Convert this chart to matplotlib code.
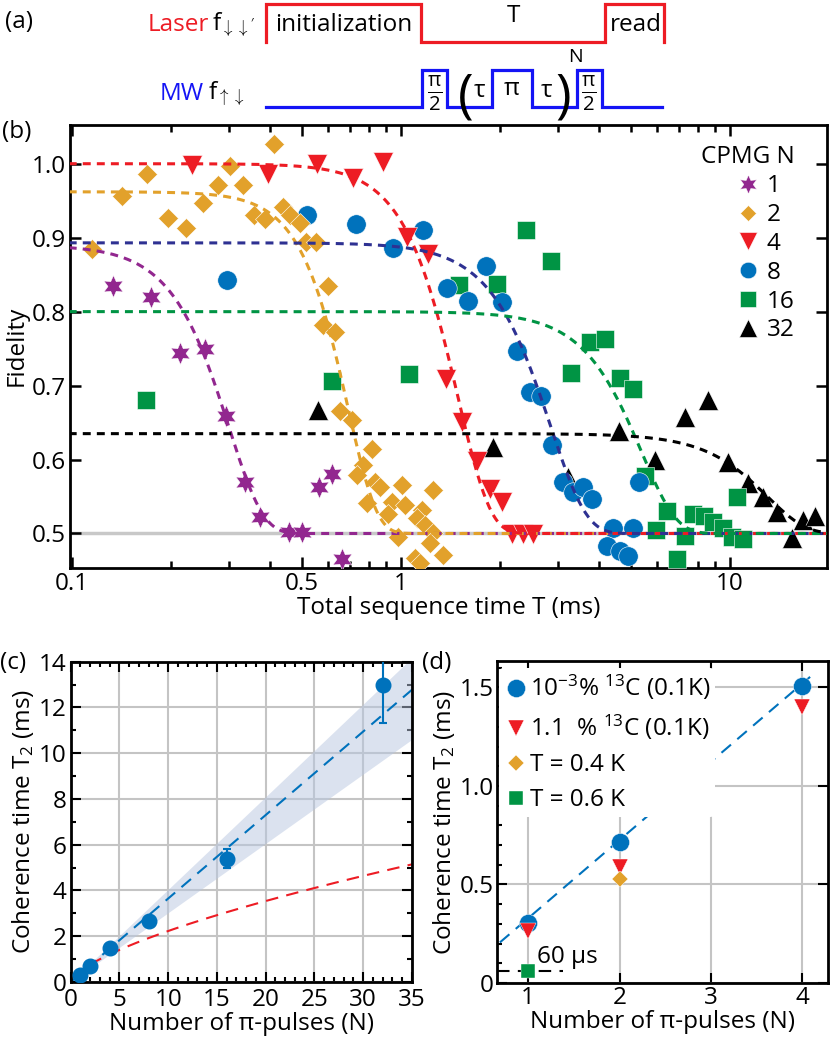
import numpy as np
import matplotlib
matplotlib.use("Agg")
import matplotlib.pyplot as plt
from matplotlib.lines import Line2D
from matplotlib.ticker import FixedLocator, NullFormatter, FixedFormatter

plt.rcParams['font.family'] = ['Open Sans', 'DejaVu Sans']
plt.rcParams['mathtext.fontset'] = 'custom'
plt.rcParams['mathtext.rm'] = 'Open Sans'
plt.rcParams['mathtext.it'] = 'Open Sans'
plt.rcParams['mathtext.bf'] = 'Open Sans:bold'
plt.rcParams['font.size'] = 17.5
plt.rcParams['axes.linewidth'] = 2.0

# ---- (b) fidelity vs total sequence time, one set per CPMG order N
cpmg_N = ['1', '2', '4', '8', '16', '32']

N1_T = [0.1335, 0.174, 0.213, 0.254, 0.293, 0.336, 0.373, 0.455, 0.499, 0.565, 0.615, 0.66]
N1_F = [0.834, 0.820, 0.744, 0.750, 0.659, 0.569, 0.522, 0.502, 0.502, 0.5625, 0.581, 0.4655]

N2_T = [0.1148, 0.1416, 0.1686, 0.196, 0.222, 0.2507, 0.2772, 0.302, 0.330, 0.358, 0.386,
        0.411, 0.439, 0.46, 0.493, 0.514, 0.552, 0.578, 0.601, 0.63, 0.653, 0.708, 0.815,
        0.768, 0.733, 0.834, 0.863, 1.005, 1.254, 0.786, 0.937, 1.028, 0.915, 1.156, 1.116,
        1.183, 1.254, 0.981, 1.225, 1.345, 1.103, 1.142]
N2_F = [0.885, 0.956, 0.9865, 0.9265, 0.913, 0.947, 0.9716, 0.9964, 0.9716, 0.931, 0.925,
        1.026, 0.941, 0.930, 0.920, 0.894, 0.894, 0.782, 0.834, 0.773, 0.665, 0.653, 0.614,
        0.593, 0.579, 0.570, 0.5625, 0.5656, 0.559, 0.541, 0.543, 0.5386, 0.527, 0.532, 0.5206,
        0.5115, 0.500, 0.4957, 0.4867, 0.471, 0.4664, 0.4597]

N4_T = [0.231, 0.393, 0.554, 0.716, 0.884, 1.04, 1.21, 1.37, 1.53, 1.70, 1.865, 2.02, 2.17, 2.35, 2.52]
N4_F = [0.998, 0.9865, 1.0, 0.98, 1.002, 0.901, 0.878, 0.709, 0.651, 0.5985, 0.560, 0.542, 0.4993, 0.4993, 0.4993]

N8_T = [0.295, 0.517, 0.73, 0.948, 1.169, 1.377, 1.60, 1.813, 2.03, 2.245, 2.47, 2.67, 2.87,
        3.11, 3.34, 3.58, 3.80, 4.42, 5.06, 4.22, 4.63, 4.91, 5.3]
N8_F = [0.843, 0.930, 0.919, 0.886, 0.911, 0.832, 0.814, 0.861, 0.813, 0.747, 0.691, 0.6865, 0.619,
        0.569, 0.556, 0.5625, 0.547, 0.508, 0.508, 0.4835, 0.4767, 0.470, 0.569]

N16_T = [0.168, 0.616, 1.06, 1.504, 1.954, 2.397, 2.85, 3.28, 3.74, 4.17, 4.63, 5.08, 5.52, 5.96,
         6.43, 6.88, 7.3, 7.74, 8.32, 8.9, 9.54, 10.12, 10.96, 10.48]
N16_F = [0.681, 0.706, 0.716, 0.836, 0.838, 0.911, 0.869, 0.717, 0.759, 0.763, 0.710, 0.695, 0.578, 0.505,
         0.531, 0.4655, 0.497, 0.526, 0.523, 0.515, 0.508, 0.495, 0.493, 0.55]

N32_T = [0.56, 1.9, 3.22, 4.58, 5.9, 7.3, 8.58, 9.88, 11.37, 12.6, 13.86, 15.4, 16.67, 18.1]
N32_F = [0.667, 0.6175, 0.577, 0.638, 0.5995, 0.658, 0.681, 0.597, 0.568, 0.55, 0.5295, 0.4935, 0.518, 0.523]

# fitted decay F = 0.5 + (A - 0.5) exp(-(T/T2)^n)
fit_A = [0.89, 0.962, 1.0, 0.893, 0.80, 0.635]
fit_T2 = [0.30, 0.69, 1.49, 2.85, 5.38, 13.0]
fit_n = [4.2, 5.0, 4.45, 4.0, 4.1, 3.8]

# ---- (c) T2 vs number of pi pulses
c_N = [1, 2, 4, 8, 16, 32]
c_T2 = [0.30, 0.69, 1.49, 2.67, 5.39, 13.0]
c_err = [0.03, 0.05, 0.08, 0.12, 0.42, 1.68]
c_slope = 0.365            # linear fit
c_band = (0.303, 0.405)    # confidence band slopes
c_pow = (0.48, 0.667)      # a * N^p

# ---- (d) T2 for several samples / temperatures
d_labels = [r'10$^{-3}$% $^{13}$C (0.1K)', r'1.1  % $^{13}$C (0.1K)', 'T = 0.4 K', 'T = 0.6 K']
d_N = [[1, 2, 4], [1, 2, 4], [2], [1]]
d_T2 = [[0.307, 0.718, 1.507], [0.265, 0.587, 1.403], [0.529], [0.06]]
d_fit = (0.397, -0.068)

colors = ['#92278F', '#E2A12B', '#ED1C24', '#0072BC', '#009444', '#000000']
fitcolors = ['#92278F', '#E2A12B', '#ED1C24', '#2E3192', '#009444', '#000000']
markers = [(6, 1, 0), 'D', 'v', 'o', 's', '^']
msizes = [16, 10, 15, 14, 13, 15]

W, H = 830, 1041
fig = plt.figure(figsize=(W / 100, H / 100), dpi=100)


def px(x0, y0, x1, y1):
    return [x0 / W, 1 - y1 / H, (x1 - x0) / W, (y1 - y0) / H]


# ================= (a) pulse sequence =================
axa = fig.add_axes([0, 1 - 125 / H, 1, 125 / H])
axa.set_xlim(0, W)
axa.set_ylim(125, 0)
axa.axis('off')
laser_x = [266, 266, 421, 421, 605, 605, 664, 664]
laser_y = [42, 4, 4, 42, 42, 4, 4, 42]
mw_x = [266, 422, 422, 447, 447, 492, 492, 532, 532, 577, 577, 602, 602, 662]
mw_y = [107, 107, 70, 70, 107, 107, 70, 70, 107, 107, 70, 70, 107, 107]
axa.plot(laser_x, laser_y, color='#ED1C24', lw=2.3, solid_joinstyle='miter')
axa.plot(mw_x, mw_y, color='#1414F5', lw=2.3, solid_joinstyle='miter')
axa.text(5, 22, '(a)', ha='left', va='center')
axa.text(209, 25, 'Laser', color='#ED1C24', ha='right', va='center')
axa.text(212, 25, r"f$_{\downarrow\downarrow'}$", ha='left', va='center')
axa.text(204, 94, 'MW', color='#1414F5', ha='right', va='center')
axa.text(208, 94, r"f$_{\uparrow\downarrow}$", ha='left', va='center')
axa.text(344, 25, 'initialization', ha='center', va='center')
axa.text(513, 16, 'T', ha='center', va='center')
axa.text(636, 25, 'read', ha='center', va='center')
for xp in [435, 589]:
    axa.text(xp, 93, r'$\frac{\pi}{2}$', ha='center', va='center', fontsize=21)
axa.text(479, 91, 'τ', ha='center', va='center')
axa.text(512, 89, 'π', ha='center', va='center')
axa.text(546, 91, 'τ', ha='center', va='center')
axa.text(466, 98, '(', ha='center', va='center', fontsize=38)
axa.text(563, 98, ')', ha='center', va='center', fontsize=38)
axa.text(575, 57, 'N', ha='center', va='center', fontsize=14)

# ================= (b) fidelity =================
axb = fig.add_axes(px(70, 124.5, 827, 567.5))
axb.set_xscale('log')
axb.axhline(0.5, color='#c8c8c8', lw=2.5, zorder=1)
series_T = [N1_T, N2_T, N4_T, N8_T, N16_T, N32_T]
series_F = [N1_F, N2_F, N4_F, N8_F, N16_F, N32_F]
for i in reversed(range(6)):
    axb.plot(series_T[i], series_F[i], ls='none', marker=markers[i], ms=msizes[i],
             color=colors[i], mec='white', mew=0.4, zorder=3)
tt = np.logspace(-1.01, np.log10(20), 500)
for i in range(6):
    ff = 0.5 + (fit_A[i] - 0.5) * np.exp(-(tt / fit_T2[i]) ** fit_n[i])
    axb.plot(tt, ff, color=fitcolors[i], lw=2.2, dashes=(2.6, 2.0), zorder=4)
axb.set_xlim(0.0986, 19.7)
axb.set_ylim(0.454, 1.053)
axb.xaxis.set_major_locator(FixedLocator([0.1, 0.5, 1, 10]))
axb.xaxis.set_major_formatter(FixedFormatter(['0.1', '0.5', '1', '10']))
minors = [0.2, 0.3, 0.4, 0.6, 0.7, 0.8, 0.9, 2, 3, 4, 5, 6, 7, 8, 9]
axb.xaxis.set_minor_locator(FixedLocator(minors))
axb.xaxis.set_minor_formatter(NullFormatter())
axb.set_yticks([0.5, 0.6, 0.7, 0.8, 0.9, 1.0])
axb.set_yticklabels(['0.5', '0.6', '0.7', '0.8', '0.9', '1.0'])
axb.tick_params(which='both', direction='in', top=True, right=True, width=1.8, pad=3)
axb.tick_params(which='major', length=8)
axb.tick_params(which='minor', length=5)
axb.set_xlabel('Total sequence time T (ms)', labelpad=0)
axb.set_ylabel('Fidelity', labelpad=2)
handles = [Line2D([], [], ls='none', marker=markers[i], ms=msizes[i] * 0.85, color=colors[i],
                  mec='white', mew=0.4) for i in range(6)]
axb.legend(handles, cpmg_N, title='CPMG N', loc='upper right', bbox_to_anchor=(0.97, 0.975),
           frameon=False, handletextpad=0.1, labelspacing=0.2, borderaxespad=0,
           alignment='right', handlelength=1.3, title_fontsize=17.5)
fig.text(2 / W, 1 - 132 / H, '(b)', ha='left', va='center')

# ================= (c) T2 vs N =================
axc = fig.add_axes(px(70.7, 661.7, 412, 982))
axc.set_axisbelow(True)
nn = np.linspace(0, 35, 200)
axc.fill_between(nn, c_band[0] * nn, c_band[1] * nn, color='#b8c6e0', alpha=0.5, lw=0, zorder=1)
axc.plot(nn, c_slope * nn, color='#0072BC', lw=1.5, dashes=(6, 4), zorder=2)
nr = np.linspace(0.3, 35, 200)
axc.plot(nr, c_pow[0] * nr ** c_pow[1], color='#ED1C24', lw=1.5, dashes=(6, 4), zorder=2)
axc.errorbar(c_N, c_T2, yerr=c_err, fmt='o', ms=10.5, color='#0072BC', ecolor='#0072BC',
             elinewidth=1.5, capsize=3, capthick=1.5, zorder=3, clip_on=True)
axc.set_xlim(0, 35)
axc.set_ylim(0, 14)
axc.set_xticks(range(0, 36, 5))
axc.set_yticks(range(0, 15, 2))
axc.xaxis.set_minor_locator(FixedLocator(range(0, 36)))
axc.yaxis.set_minor_locator(FixedLocator(range(0, 15)))
axc.grid(True, which='major', color='#c4c4c4', lw=1.5)
axc.tick_params(which='both', direction='in', top=True, right=True, width=1.5)
axc.tick_params(axis='x', pad=4)
axc.tick_params(axis='y', pad=3)
axc.tick_params(which='major', length=7)
axc.tick_params(which='minor', length=3.5)
axc.set_xlabel('Number of π-pulses (N)', labelpad=0)
axc.set_ylabel(r'Coherence time T$_2$ (ms)', labelpad=2)
fig.text(0 / W, 1 - 663 / H, '(c)', ha='left', va='center')

# ================= (d) T2 samples =================
axd = fig.add_axes(px(496.7, 661, 828, 983))
axd.set_axisbelow(True)
nd = np.linspace(0.69, 4.14, 50)
axd.plot(nd, d_fit[0] * nd + d_fit[1], color='#0072BC', lw=1.5, dashes=(6, 4), zorder=2)
axd.plot([0.655, 1.38], [d_T2[3][0], d_T2[3][0]], color='black', lw=1.5, dashes=(6, 4), zorder=2)
d_colors = ['#0072BC', '#ED1C24', '#E2A12B', '#009444']
d_markers = ['o', 'v', 'D', 's']
d_ms = [13, 12, 8.5, 10]
for i in range(4):
    axd.plot(d_N[i], d_T2[i], ls='none', marker=d_markers[i], ms=d_ms[i], color=d_colors[i],
             label=d_labels[i], zorder=3, mec='white', mew=0.3)
axd.text(1.1, 0.13, '60 µs', ha='left', va='center')
axd.set_xlim(0.655, 4.28)
axd.set_ylim(0, 1.634)
axd.set_xticks([1, 2, 3, 4])
axd.set_yticks([0, 0.5, 1.0, 1.5])
axd.set_yticklabels(['0', '0.5', '1.0', '1.5'])
axd.yaxis.set_minor_locator(FixedLocator(np.arange(0, 1.65, 0.1)))
axd.grid(True, which='major', color='#c4c4c4', lw=1.5)
axd.tick_params(which='both', direction='in', top=True, right=True, width=1.5, pad=2)
axd.tick_params(which='major', length=7)
axd.tick_params(which='minor', length=3.5, right=False)
axd.set_xlabel('Number of π-pulses (N)', labelpad=0)
axd.set_ylabel(r'Coherence time T$_2$ (ms)', labelpad=2)
axd.legend(loc='upper left', bbox_to_anchor=(0.0, 0.985), frameon=True, framealpha=1,
           edgecolor='none', facecolor='white', handletextpad=0.05, handlelength=1.0,
           labelspacing=0.45, borderpad=0.2, borderaxespad=0.1)
fig.text(422 / W, 1 - 663 / H, '(d)', ha='left', va='center')

fig.savefig('out.png', dpi=100)
